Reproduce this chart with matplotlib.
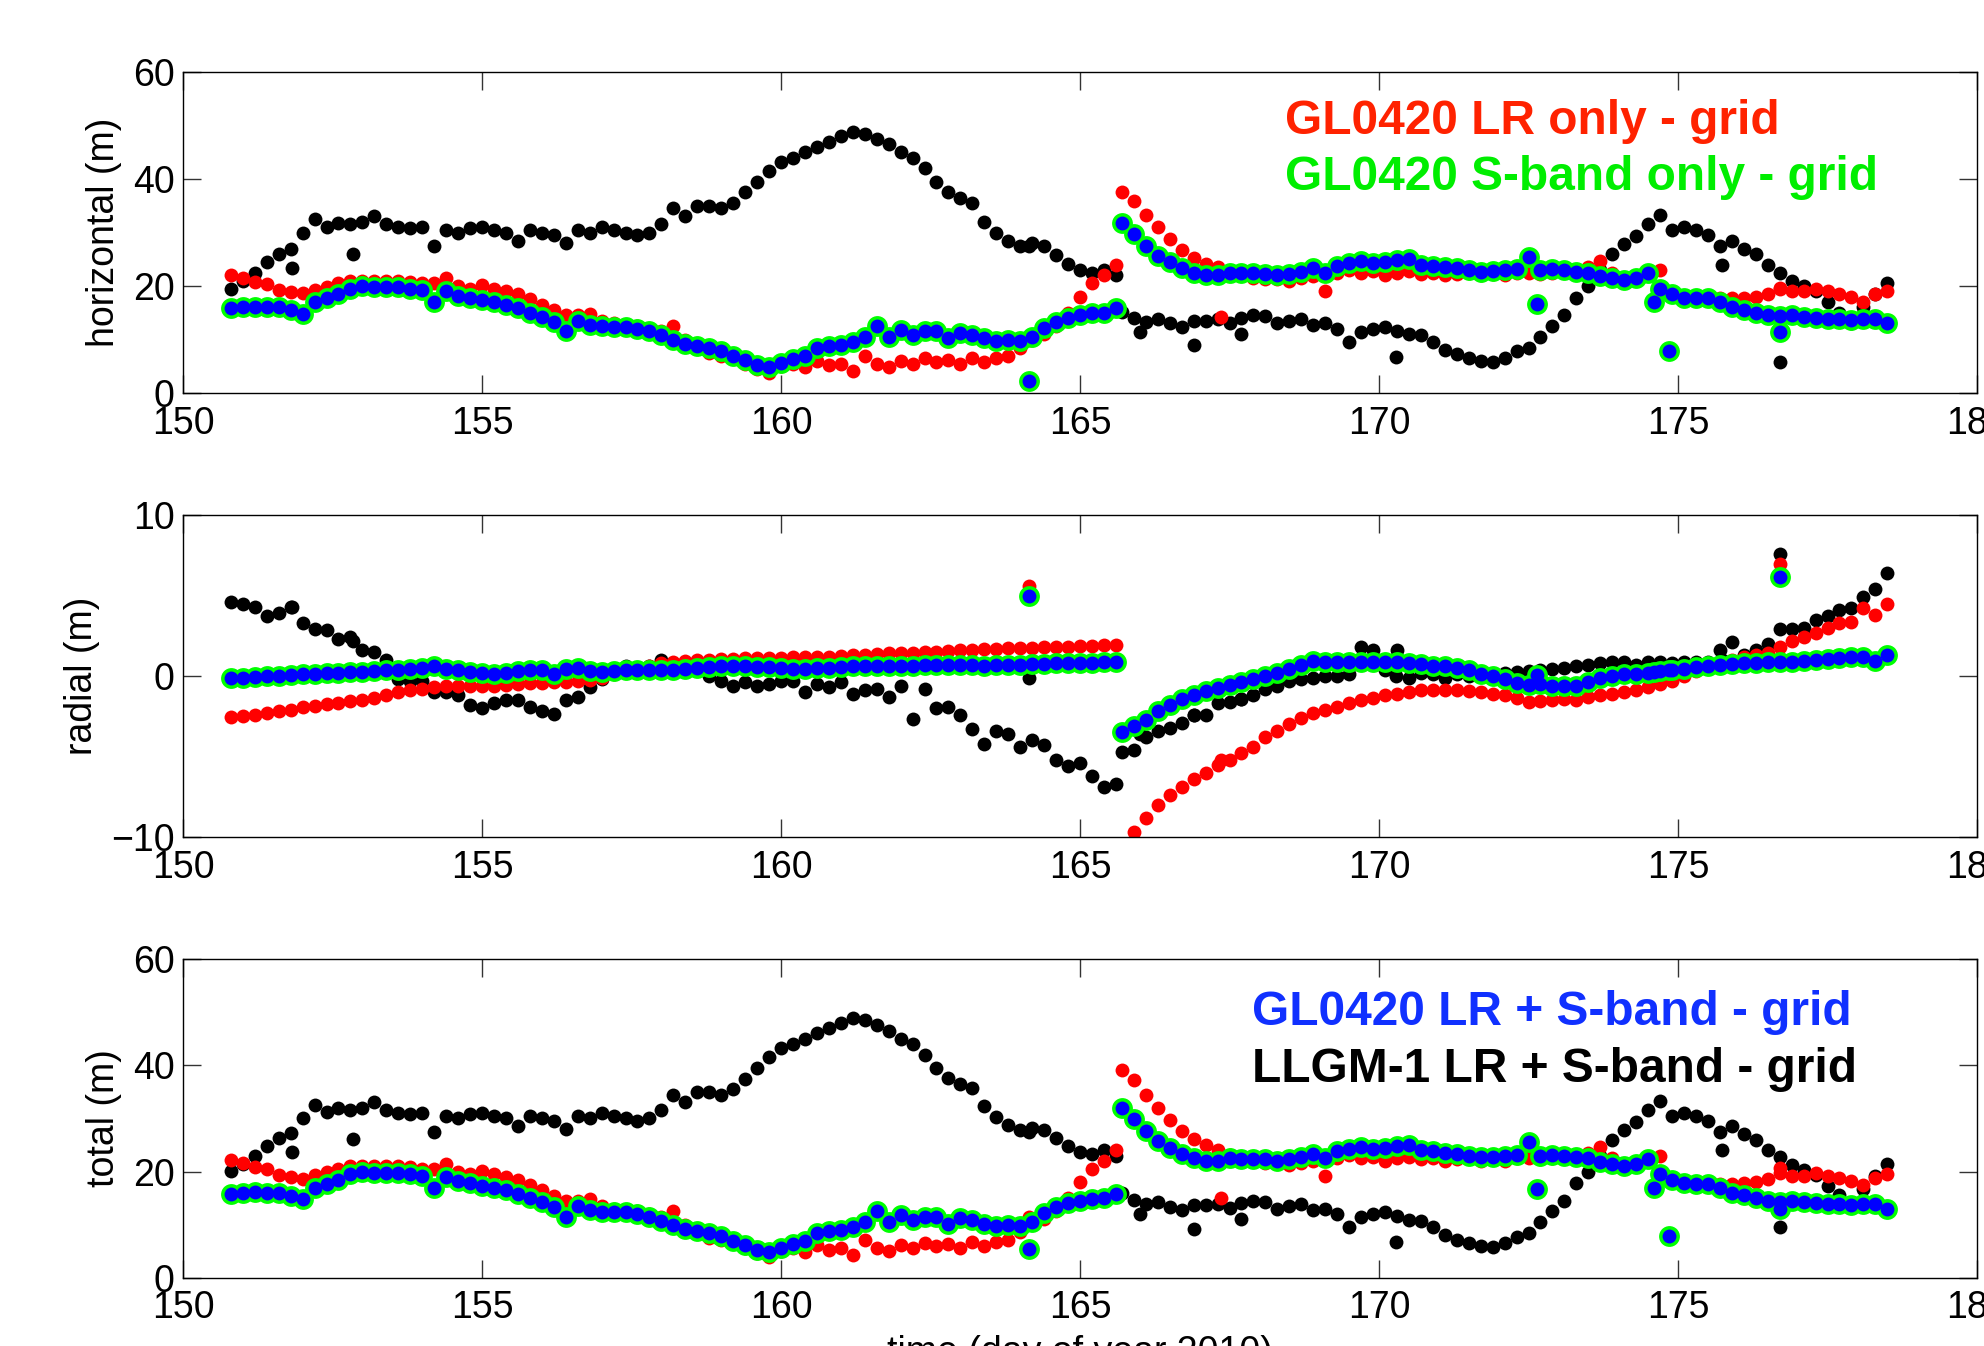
import numpy as np
import matplotlib
matplotlib.use("Agg")
import matplotlib.pyplot as plt

plt.rcParams['font.family'] = ['Liberation Sans', 'DejaVu Sans']

# ---------------- data (day of year 2010) ----------------
# arc 1 and arc 2 sampling epochs
t1 = np.round(np.arange(150.8, 165.61, 0.2), 2)   # 75 epochs
t2 = np.round(np.arange(165.7, 178.51, 0.2), 2)   # 65 epochs

# LLGM-1 LR + S-band (black)
llgm_h1 = [19.5, 21, 22.5, 24.5, 26, 27, 30, 32.5, 31, 31.8,
           31.5, 32, 33, 31.5, 31, 30.8, 31, 27.5, 30.5, 30,
           30.8, 31, 30.5, 30, 28.5, 30.5, 30, 29.5, 28, 30.5,
           30, 31, 30.5, 30, 29.5, 30, 31.5, 34.5, 33, 35,
           35, 34.5, 35.5, 37.5, 39.5, 41.5, 43.2, 44, 45, 46,
           47, 48, 48.8, 48.5, 47.5, 46.5, 45, 44, 42, 39.5,
           37.5, 36.5, 35.5, 32, 30, 28.5, 27.5, 28, 27.5, 25.8,
           24.2, 23, 22.5, 23, 22]
llgm_r1 = [4.6, 4.5, 4.3, 3.7, 3.9, 4.3, 3.3, 2.9, 2.85, 2.3,
           2.4, 1.6, 1.5, 1.0, -0.2, -0.3, -0.3, -1.0, -1.0, -1.2,
           -1.8, -2.0, -1.7, -1.5, -1.5, -1.9, -2.2, -2.35, -1.5, -1.3,
           -0.7, -0.2, 0.2, 0.6, 0.5, 0.6, 1.0, 0.8, 0.9, 0.5,
           0.0, -0.3, -0.6, -0.4, -0.6, -0.5, -0.3, -0.3, -1.0, -0.5,
           -0.7, -0.4, -1.1, -0.9, -0.8, -1.3, -0.6, -2.7, -0.8, -2.0,
           -1.9, -2.4, -3.3, -4.2, -3.4, -3.6, -4.4, -4.0, -4.3, -5.2,
           -5.6, -5.4, -6.2, -6.9, -6.7]
llgm_h2 = [15.2, 14, 13.3, 13.9, 13, 12.4, 13.5, 13.5, 13.9, 13,
           14, 14.5, 14.3, 13, 13.5, 13.9, 12.7, 13, 12, 9.5,
           11.4, 12, 12.4, 11.5, 11, 10.8, 9.5, 8, 7.2, 6.5,
           6, 5.8, 6.5, 7.8, 8.5, 10.5, 12.5, 14.5, 17.8, 20,
           23, 26, 27.8, 29.3, 31.5, 33.3, 30.5, 31, 30.5, 29.5,
           27.5, 28.5, 27, 26, 24, 22.5, 21, 20, 19, 17,
           15, 13, 16, 18.5, 20.5]
llgm_r2 = [-4.7, -4.6, -3.8, -3.4, -3.2, -2.9, -2.4, -2.4, -1.7, -1.6,
           -1.4, -1.2, -0.8, -0.6, -0.3, -0.2, -0.1, 0.0, 0.0, 0.1,
           1.8, 1.6, 0.4, 1.6, -0.1, 0.2, 0.1, -0.1, 0.1, 0.0,
           0.05, 0.1, 0.2, 0.25, 0.3, 0.37, 0.45, 0.5, 0.6, 0.7,
           0.8, 0.9, 0.85, 0.7, 0.85, 0.9, 0.8, 0.85, 0.9, 0.9,
           1.6, 2.1, 1.3, 1.6, 2.0, 2.9, 2.9, 3.0, 3.5, 3.7,
           4.1, 4.2, 4.9, 5.4, 6.4]
llgm_out_t = [151.83, 152.85, 164.15, 166.0, 166.9, 167.7, 170.28, 175.73, 176.7]
llgm_out_h = [23.3, 26.0, 27.5, 11.4, 8.9, 11.1, 6.7, 24.0, 5.8]
llgm_out_r = [4.3, 2.2, -0.15, -3.6, -2.4, -1.4, 0.0, 1.0, 7.59]

# GL0420 LR only (red)
lr_h1 = [22, 21.5, 20.8, 20.3, 19.3, 18.8, 18.6, 19.2, 19.8, 20.5,
         21, 21, 21, 21, 21, 20.8, 20.5, 20.5, 21.5, 20,
         19.5, 20.2, 19.5, 19, 18.5, 17.5, 16.5, 15.5, 14.5, 14.5,
         14.8, 13.5, 13, 12.5, 12.5, 12, 11.5, 12.5, 10, 8.5,
         7.5, 7, 6.5, 5.5, 4.5, 3.8, 5, 5.5, 4.8, 6,
         5.2, 5.5, 4.2, 7, 5.5, 4.8, 6, 5.5, 6.5, 5.8,
         6.2, 5.5, 6.5, 5.8, 6.5, 7, 8.5, 10, 11, 12.5,
         15, 18, 20.5, 22, 24]
lr_r1 = [-2.55, -2.5, -2.4, -2.3, -2.2, -2.1, -1.95, -1.85, -1.75, -1.65,
         -1.55, -1.5, -1.35, -1.2, -1.0, -0.9, -0.8, -0.7, -0.65, -0.65,
         -0.65, -0.65, -0.6, -0.55, -0.5, -0.45, -0.45, -0.4, -0.35, -0.3,
         -0.25, -0.1, 0.1, 0.3, 0.5, 0.65, 0.8, 0.9, 0.95, 1.0,
         1.0, 1.05, 1.05, 1.1, 1.1, 1.1, 1.1, 1.15, 1.15, 1.2,
         1.2, 1.25, 1.3, 1.3, 1.35, 1.4, 1.4, 1.45, 1.5, 1.52,
         1.55, 1.6, 1.6, 1.65, 1.7, 1.72, 1.75, 1.75, 1.78, 1.8,
         1.82, 1.85, 1.88, 1.9, 1.95]
lr_h2 = [37.6, 35.9, 33.2, 31, 28.8, 26.8, 25.3, 24.2, 23.5, 22.5,
         22, 21.5, 21.3, 21.3, 21, 21.5, 21.8, 19, 22.5, 23,
         22.5, 22.8, 22, 22.5, 22.8, 22.3, 22.5, 22, 22.3, 22.5,
         22, 22.3, 22, 22.5, 22.5, 22.3, 22.5, 22.8, 23, 23.5,
         24.6, 22.5, 21.5, 21.5, 22, 23, 18.5, 18, 17.8, 17.5,
         17.7, 17.7, 17.8, 18, 18.5, 19.6, 19, 19, 19.5, 19,
         18.5, 18, 17, 18.5, 19]
lr_r2 = [-10.8, -9.7, -8.8, -8.0, -7.4, -6.9, -6.4, -6.0, -5.5, -5.2,
         -4.8, -4.4, -3.8, -3.4, -3.0, -2.6, -2.3, -2.1, -1.9, -1.7,
         -1.5, -1.35, -1.2, -1.1, -1.0, -0.9, -0.85, -0.85, -0.9, -0.95,
         -1.0, -1.1, -1.2, -1.35, -1.6, -1.55, -1.5, -1.45, -1.5, -1.3,
         -1.2, -1.1, -1.0, -0.9, -0.7, -0.5, -0.3, 0.0, 0.3, 0.55,
         0.8, 1.0, 1.15, 1.3, 1.45, 1.8, 2.15, 2.45, 2.7, 3.0,
         3.3, 3.35, 4.2, 3.8, 4.45]
lr_out_t = [164.15, 167.35, 176.7]
lr_out_h = [10.0, 14.2, 19.5]
lr_out_r = [5.6, -5.2, 6.96]

# GL0420 LR + S-band (blue); S-band only (green) coincides with it
lrs_h1 = [15.8, 16, 16.1, 16, 16, 15.5, 14.8, 17, 17.7, 18.5,
          19.5, 20, 19.8, 19.8, 19.8, 19.5, 19.2, 17, 19, 18.2,
          17.8, 17.3, 17, 16.5, 15.8, 15, 14.2, 13.3, 11.5, 13.5,
          12.8, 12.5, 12.4, 12.4, 12, 11.5, 10.8, 10, 9.2, 8.8,
          8.4, 7.8, 7, 6.2, 5.3, 4.8, 5.6, 6.4, 7, 8.5,
          8.8, 9, 9.5, 10.5, 12.5, 10.5, 11.8, 10.8, 11.5, 11.5,
          10.2, 11.2, 10.8, 10.2, 9.8, 10, 9.8, 10.5, 12.2, 13.3,
          14, 14.5, 14.9, 15, 15.8]
lrs_r1 = [-0.15, -0.1, -0.05, 0, 0.03, 0.05, 0.1, 0.15, 0.18, 0.2,
          0.22, 0.26, 0.3, 0.35, 0.4, 0.45, 0.5, 0.6, 0.45, 0.35,
          0.25, 0.16, 0.15, 0.2, 0.3, 0.35, 0.37, 0.1, 0.45, 0.47,
          0.3, 0.25, 0.3, 0.35, 0.35, 0.4, 0.4, 0.4, 0.45, 0.47,
          0.55, 0.6, 0.65, 0.6, 0.55, 0.55, 0.5, 0.45, 0.45, 0.5,
          0.5, 0.55, 0.6, 0.6, 0.6, 0.62, 0.65, 0.65, 0.68, 0.7,
          0.7, 0.7, 0.68, 0.65, 0.68, 0.7, 0.7, 0.72, 0.75, 0.78,
          0.8, 0.8, 0.82, 0.85, 0.9]
lrs_h2 = [31.8, 29.8, 27.5, 25.6, 24.4, 23.3, 22.5, 22, 22, 22.5,
          22.4, 22.4, 22.3, 22, 22.3, 22.7, 23.3, 22.5, 23.8, 24.3,
          24.6, 24.3, 24.5, 24.8, 25, 24, 23.8, 23.5, 23.3, 23,
          22.7, 22.8, 23, 23.2, 25.5, 23, 23.1, 23, 22.7, 22.5,
          21.8, 21.5, 21.1, 21.5, 22.4, 19.5, 18.5, 17.8, 17.7, 17.7,
          17, 16, 15.5, 15, 14.5, 14.3, 14.5, 14.2, 14, 13.9,
          13.8, 13.6, 13.8, 13.9, 13]
lrs_r2 = [-3.5, -3.1, -2.75, -2.2, -1.8, -1.45, -1.15, -0.95, -0.75, -0.55,
          -0.4, -0.2, 0.0, 0.2, 0.45, 0.7, 0.95, 0.85, 0.85, 0.85,
          0.85, 0.9, 0.85, 0.85, 0.8, 0.75, 0.65, 0.6, 0.5, 0.35,
          0.15, 0.0, -0.2, -0.45, -0.55, -0.5, -0.6, -0.6, -0.6, -0.4,
          -0.1, 0.0, 0.1, 0.15, 0.2, 0.3, 0.37, 0.45, 0.55, 0.65,
          0.7, 0.75, 0.78, 0.8, 0.85, 0.88, 0.9, 0.95, 1.0, 1.05,
          1.1, 1.15, 1.15, 0.95, 1.3]
lrs_out_t = [164.15, 172.65, 174.6, 174.85, 176.7]
lrs_out_h = [2.3, 16.7, 17.0, 7.8, 11.4]
lrs_out_r = [5.0, 0.05, 0.25, 0.4, 6.13]

legend_top = ["GL0420 LR only - grid", "GL0420 S-band only - grid"]
legend_bottom = ["GL0420 LR + S-band - grid", "LLGM-1 LR + S-band - grid"]
ylabels = ["horizontal (m)", "radial (m)", "total (m)"]
xlabel = "time (day of year 2010)"


def series(h1, h2, hout, r1, r2, rout, tout):
    t = np.concatenate([t1, t2, np.asarray(tout, float)])
    h = np.concatenate([np.asarray(h1, float), np.asarray(h2, float), np.asarray(hout, float)])
    r = np.concatenate([np.asarray(r1, float), np.asarray(r2, float), np.asarray(rout, float)])
    return t, h, r, np.sqrt(h ** 2 + r ** 2)


llgm = series(llgm_h1, llgm_h2, llgm_out_h, llgm_r1, llgm_r2, llgm_out_r, llgm_out_t)
lr = series(lr_h1, lr_h2, lr_out_h, lr_r1, lr_r2, lr_out_r, lr_out_t)
lrs = series(lrs_h1, lrs_h2, lrs_out_h, lrs_r1, lrs_r2, lrs_out_r, lrs_out_t)
sb = lrs  # S-band only solution overlaps LR+S-band within plotting precision

# ---------------- figure ----------------
W, H = 1984, 1346
fig = plt.figure(figsize=(W / 100, H / 100), dpi=100)
left = 183 / W
width = 1794 / W
boxes = [(72, 393), (515, 837), (959, 1278)]
axes = []
for top, bot in boxes:
    axes.append(fig.add_axes([left, 1 - bot / H, width, (bot - top) / H]))

FS = 27
styles = [  # (series, color, markersize)
    (llgm, 'black', 10.0),
    (lr, 'red', 10.0),
    (sb, '#00ff00', 15.0),
    (lrs, '#0000ff', 10.0),
]
for i, ax in enumerate(axes):
    for (t, h, r, tot), col, ms in styles:
        y = [h, r, tot][i]
        ax.plot(t, y, 'o', color=col, ms=ms, mew=0, ls='none')
    ax.set_xlim(150, 180)
    ax.set_xticks(np.arange(150, 181, 5))
    if i == 1:
        ax.set_ylim(-10, 10)
        ax.set_yticks([-10, 0, 10])
    else:
        ax.set_ylim(0, 60)
        ax.set_yticks([0, 20, 40, 60])
    ax.tick_params(direction='in', length=13, width=1, top=True, right=True,
                   labelsize=FS, color='#333333')
    ax.tick_params(axis='x', pad=9)
    ax.tick_params(axis='y', pad=6)
    ax.set_ylabel(ylabels[i], fontsize=FS, labelpad=8)
    for s in ax.spines.values():
        s.set_linewidth(1.0)

axes[2].set_xlabel(xlabel, fontsize=FS, labelpad=6)

LFS = 34.5
axes[0].text(168.43, 48.5, legend_top[0], color='#ff2200', fontsize=LFS,
             fontweight='bold', ha='left', va='baseline')
axes[0].text(168.43, 38.0, legend_top[1], color='#00ee00', fontsize=LFS,
             fontweight='bold', ha='left', va='baseline')
axes[2].text(167.88, 47.6, legend_bottom[0], color='#1030ff', fontsize=LFS,
             fontweight='bold', ha='left', va='baseline')
axes[2].text(167.88, 36.9, legend_bottom[1], color='black', fontsize=LFS,
             fontweight='bold', ha='left', va='baseline')

fig.savefig('out.png', dpi=100)
